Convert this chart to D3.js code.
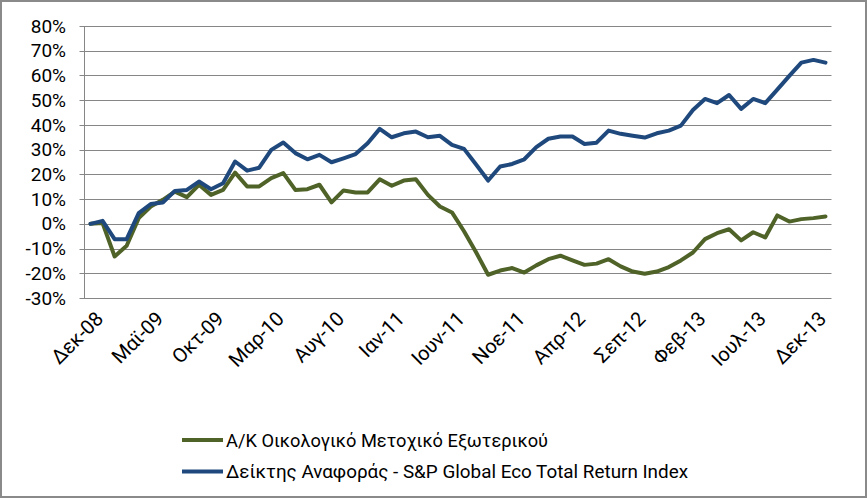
<!DOCTYPE html>
<html>
<head>
<meta charset="utf-8">
<script src="https://cdn.jsdelivr.net/npm/d3@7"></script>
<style>
  html, body { margin: 0; padding: 0; background: #fff; }
  svg { display: block; }
  text { font-family: "Roboto", "Noto Sans", sans-serif; fill: #000; }
</style>
</head>
<body>
<svg id="chart" width="867" height="498"></svg>
<script>
// ---------- data ----------
const categories = [
  "Δεκ-08",
  "Ιαν-09","Φεβ-09","Μαρ-09","Απρ-09","Μαϊ-09","Ιουν-09","Ιουλ-09","Αυγ-09","Σεπ-09","Οκτ-09","Νοε-09","Δεκ-09",
  "Ιαν-10","Φεβ-10","Μαρ-10","Απρ-10","Μαϊ-10","Ιουν-10","Ιουλ-10","Αυγ-10","Σεπ-10","Οκτ-10","Νοε-10","Δεκ-10",
  "Ιαν-11","Φεβ-11","Μαρ-11","Απρ-11","Μαϊ-11","Ιουν-11","Ιουλ-11","Αυγ-11","Σεπ-11","Οκτ-11","Νοε-11","Δεκ-11",
  "Ιαν-12","Φεβ-12","Μαρ-12","Απρ-12","Μαϊ-12","Ιουν-12","Ιουλ-12","Αυγ-12","Σεπ-12","Οκτ-12","Νοε-12","Δεκ-12",
  "Ιαν-13","Φεβ-13","Μαρ-13","Απρ-13","Μαϊ-13","Ιουν-13","Ιουλ-13","Αυγ-13","Σεπ-13","Οκτ-13","Νοε-13","Δεκ-13",
  "Ιαν-14"
];
const tickLabels = ["Δεκ-08","Μαϊ-09","Οκτ-09","Μαρ-10","Αυγ-10","Ιαν-11","Ιουν-11","Νοε-11","Απρ-12","Σεπ-12","Φεβ-13","Ιουλ-13","Δεκ-13"];
const yTicks = [-30,-20,-10,0,10,20,30,40,50,60,70,80];

const fundName = "Α/Κ Οικολογικό Μετοχικό Εξωτερικού";
const fundValues = [
  0, 0.3, -13.2, -8.9, 2.3, 7, 9.7, 13, 10.8, 15.8, 11.7,
  13.7, 20.7, 15.1, 15.1, 18.5, 20.5, 13.7, 14, 15.8, 8.7,
  13.5, 12.7, 12.7, 18, 15.4, 17.5, 18, 11.7, 7, 4.6,
  -3, -11.5, -20.6, -18.9, -17.9, -19.7, -16.8, -14.3, -12.9, -14.8,
  -16.6, -16.1, -14.3, -17.2, -19.3, -20.2, -19.3, -17.5, -14.8, -11.6,
  -6.2, -3.8, -2.2, -6.7, -3.4, -5.5, 3.4, 0.9, 1.9, 2.3, 3
];
const indexName = "Δείκτης Αναφοράς - S&P Global Eco Total Return Index";
const indexValues = [
  0, 1.2, -6.2, -6.2, 4.3, 8, 8.6, 13.3, 13.7, 17.1, 14,
  16.4, 25.2, 21.5, 22.7, 29.9, 32.9, 28.6, 26.1, 27.9, 24.9,
  26.5, 28.2, 32.6, 38.4, 35, 36.6, 37.3, 35, 35.6, 31.9,
  30.3, 24, 17.5, 23.2, 24.2, 26.1, 31, 34.4, 35.3, 35.3,
  32.3, 32.8, 37.7, 36.4, 35.6, 34.9, 36.6, 37.7, 39.7, 46,
  50.5, 48.8, 52.1, 46.5, 50.5, 48.8, 54.3, 59.8, 65.2, 66.3, 65.2
];

const seriesColors = ["#4F6228", "#1F497D"];

// ---------- layout ----------
const W = 867, H = 498;
const plot = { left: 84.5, right: 831.5, top: 26, bottom: 298 };
const svg = d3.select("#chart");

// chart border
svg.append("rect")
  .attr("x", 1).attr("y", 1).attr("width", W - 2).attr("height", H - 2)
  .attr("fill", "#fff").attr("stroke", "#8a8a8a").attr("stroke-width", 2);

const x = d3.scalePoint().domain(categories).range([plot.left, plot.right]).padding(0.5);
const y = d3.scaleLinear().domain([-30, 80]).range([plot.bottom, plot.top]);
const snap = v => Math.round(v) + 0.5;

// gridlines + y ticks
svg.append("g").selectAll("line").data(yTicks).join("line")
  .attr("x1", plot.left - 5).attr("x2", plot.right)
  .attr("y1", d => snap(y(d))).attr("y2", d => snap(y(d)))
  .attr("stroke", "#868686").attr("stroke-width", 1);

// y axis line
svg.append("line")
  .attr("x1", snap(plot.left - 0.5)).attr("x2", snap(plot.left - 0.5))
  .attr("y1", y(80)).attr("y2", y(-30))
  .attr("stroke", "#868686").attr("stroke-width", 1);

// y labels
svg.append("g").selectAll("text").data(yTicks).join("text")
  .attr("x", 66).attr("y", d => y(d))
  .attr("dy", "0.35em")
  .attr("text-anchor", "end")
  .style("font-size", "19px")
  .text(d => d + "%");

// x labels
svg.append("g").selectAll("text").data(tickLabels).join("text")
  .attr("text-anchor", "end")
  .style("font-size", "20px")
  .attr("transform", d => `translate(${x(d) + 14},${320}) rotate(-45)`)
  .text(d => d);

// lines
const line = d3.line().x((d, i) => x(categories[i])).y(d => y(d));
[fundValues, indexValues].forEach((vals, k) => {
  svg.append("path")
    .datum(vals)
    .attr("d", line)
    .attr("fill", "none")
    .attr("stroke", seriesColors[k])
    .attr("stroke-width", 4)
    .attr("stroke-linejoin", "round")
    .attr("stroke-linecap", "round");
});

// legend
const legendNames = [fundName, indexName];
const legendY = [440, 471.5];
const legendWidths = [322, 462];
legendNames.forEach((name, k) => {
  svg.append("line")
    .attr("x1", 182).attr("x2", 223)
    .attr("y1", legendY[k]).attr("y2", legendY[k])
    .attr("stroke", seriesColors[k]).attr("stroke-width", 4);
  svg.append("text")
    .attr("x", 226).attr("y", legendY[k]).attr("dy", "0.35em")
    .style("font-size", "19px")
    .attr("textLength", legendWidths[k])
    .attr("lengthAdjust", "spacingAndGlyphs")
    .text(name);
});
</script>
</body>
</html>
